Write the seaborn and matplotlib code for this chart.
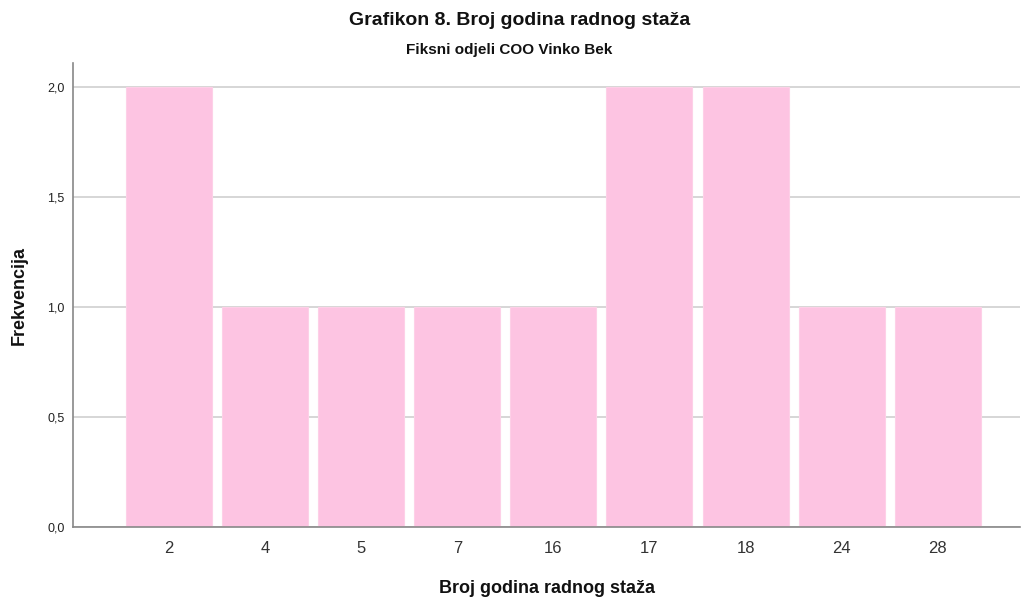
import matplotlib
matplotlib.use("Agg")
import matplotlib.pyplot as plt
import seaborn as sns
import pandas as pd
from matplotlib import font_manager

categories = ["2", "4", "5", "7", "16", "17", "18", "24", "28"]
frequencies = [2, 1, 1, 1, 1, 2, 2, 1, 1]
y_ticks = [0.0, 0.5, 1.0, 1.5, 2.0]
y_tick_labels = ["0,0", "0,5", "1,0", "1,5", "2,0"]

sns.set_theme(style="white")
plt.rcParams['font.family'] = ['Liberation Sans', 'DejaVu Sans']

names = {f.name for f in font_manager.fontManager.ttflist}
narrow = 'Liberation Sans Narrow' if 'Liberation Sans Narrow' in names else 'Liberation Sans'

df = pd.DataFrame({"staz": categories, "freq": frequencies})

fig = plt.figure(figsize=(10.22, 6.01), dpi=100)
ax = fig.add_axes([0.0714, 0.1231, 0.927, 0.7721])

sns.barplot(data=df, x="staz", y="freq", order=categories, color="#fdc4e2",
            saturation=1, width=0.895, ax=ax, zorder=2, edgecolor="#fdd0e7", linewidth=0.8)

ax.set_xlim(-1.0, 8.86)
ax.set_ylim(0, 2.109)
ax.set_yticks(y_ticks)
ax.set_yticklabels(y_tick_labels, fontsize=9, color="#222222")
ax.tick_params(axis='x', labelsize=12, colors="#333333", length=0, pad=10)
ax.tick_params(axis='y', length=0, pad=6)
for lab in ax.get_xticklabels():
    lab.set_color("#333333")

ax.yaxis.grid(True, color="#d0d0d0", linewidth=1.2, zorder=0)
ax.set_axisbelow(True)
for s in ["top", "right"]:
    ax.spines[s].set_visible(False)
for s in ["left", "bottom"]:
    ax.spines[s].set_color("#888888")
    ax.spines[s].set_linewidth(1.2)

ax.set_xlabel("Broj godina radnog staža", fontsize=13, fontweight="bold", labelpad=17, color="#111111")
ax.set_ylabel("Frekvencija", fontsize=13, fontweight="bold", labelpad=14, color="#111111")

fig.text(0.508, 0.966, "Grafikon 8. Broj godina radnog staža", ha="center", va="center",
         fontsize=14, fontweight="bold", family=[narrow, 'DejaVu Sans'], color="#111111")
fig.text(0.4985, 0.917, "Fiksni odjeli COO Vinko Bek", ha="center", va="center",
         fontsize=11, fontweight="bold", family=[narrow, 'DejaVu Sans'], color="#111111")

fig.savefig("out.png", dpi=100)
